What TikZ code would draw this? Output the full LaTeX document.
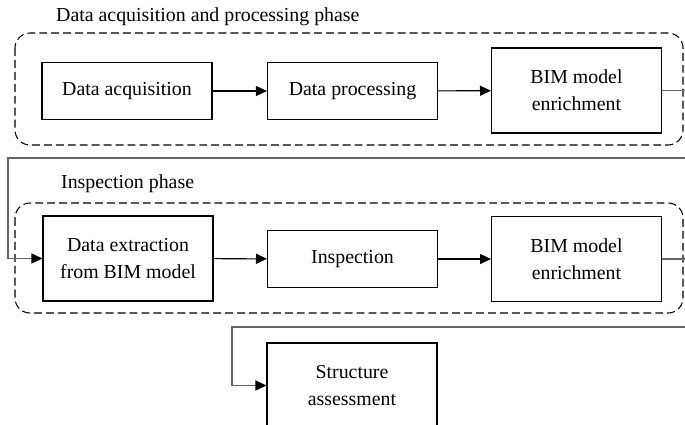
\documentclass[tikz,border=0pt]{standalone}
\usepackage{fontspec}
\setmainfont{Liberation Serif}
\usetikzlibrary{arrows.meta}

\begin{document}
\begin{tikzpicture}[x=0.02cm,y=-0.02cm,
		font=\fontsize{11.3}{15.5}\selectfont,
		stepbox/.style={draw,line width=0.6pt,align=center,minimum width=3.4cm,minimum height=1.14cm,inner sep=0pt},
		tallbox/.style={stepbox,minimum height=1.7cm},
		phase/.style={draw,line width=0.6pt,dash pattern=on 4.5pt off 2.3pt,rounded corners=0.3cm},
		flow/.style={line width=0.6pt,-{Triangle[length=0.22cm,width=0.2cm]}},
		loop/.style={line width=0.6pt,draw=black!60,-{Triangle[length=0.22cm,width=0.2cm,color=black]}}]
		\useasboundingbox (0,0) rectangle (685,424);
		% phases
		\draw[phase] (15,33) rectangle (683,145);
		\draw[phase] (15,203) rectangle (683,313);
		\node[anchor=west] (title1) at (50,17) {Data acquisition and processing phase};
		\node[anchor=west] (title2) at (55,184) {Inspection phase};
		% first row
		\node[stepbox] (acq) at (127,91) {Data acquisition};
		\node[stepbox] (proc) at (352.5,91) {Data processing};
		\node[tallbox] (enr1) at (576.5,90.5) {BIM model\\enrichment};
		% second row
		\node[tallbox] (ext) at (128,258.5) {Data extraction\\from BIM model};
		\node[stepbox] (insp) at (352.5,259) {Inspection};
		\node[tallbox] (enr2) at (576.5,259) {BIM model\\enrichment};
		% last step
		\node[tallbox] (assess) at (352,385.5) {Structure\\assessment};
		% connectors
		\draw[flow] (acq) -- (proc);
		\draw[flow] (proc) -- (enr1);
		\draw[flow] (ext) -- (insp);
		\draw[flow] (insp) -- (enr2);
		\coordinate (turn1) at (700,158);
		\coordinate (back1) at (8,158);
		\draw[loop] (enr1.east) -| (turn1) -- (back1) |- (ext.west);
		\coordinate (turn2) at (700,327);
		\coordinate (back2) at (232,327);
		\draw[loop] (enr2.east) -| (turn2) -- (back2) |- (assess.west);
	\end{tikzpicture}
\end{document}
